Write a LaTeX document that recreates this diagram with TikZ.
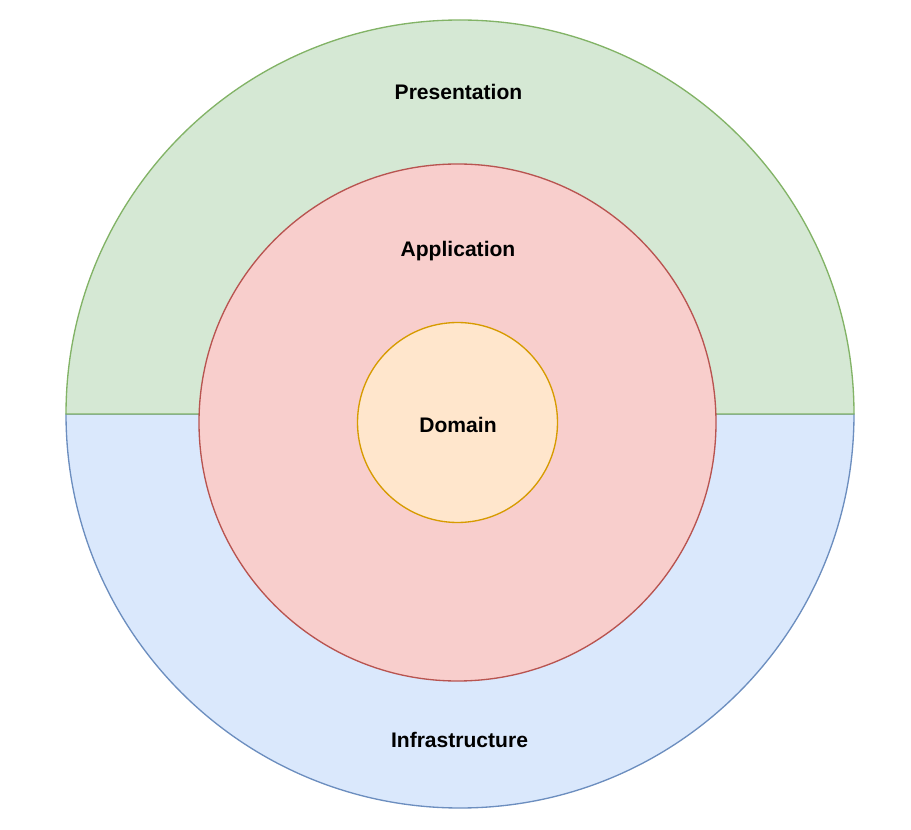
\documentclass[tikz,border=0pt]{standalone}
\usepackage{fontspec}
\setmainfont{Liberation Sans}
\usetikzlibrary{positioning}
\definecolor{presfill}{HTML}{D5E8D4}
\definecolor{presline}{HTML}{82B366}
\definecolor{infrafill}{HTML}{DAE8FC}
\definecolor{infraline}{HTML}{6C8EBF}
\definecolor{appfill}{HTML}{F8CECC}
\definecolor{appline}{HTML}{B85450}
\definecolor{domfill}{HTML}{FFE6CC}
\definecolor{domline}{HTML}{D79B00}
\tikzset{layer/.style={line width=1pt},ring/.style={circle,draw,line width=1pt,inner sep=0pt},label/.style={font=\bfseries\fontsize{15.8pt}{18pt}\selectfont,inner sep=0pt,anchor=base}}

\begin{document}
\begin{tikzpicture}[x=0.75pt,y=-0.75pt]
\useasboundingbox (0,0) rectangle (911,830);
\draw[layer, draw=infraline, fill=infrafill] (66,414) arc (180:0:394) -- cycle;
\draw[layer, draw=presline, fill=presfill] (66,414) arc (180:360:394) -- cycle;
\node[ring, draw=appline, fill=appfill, minimum size=517*0.75pt] (app) at (457.5,422.5) {};
\node[ring, draw=domline, fill=domfill, minimum size=200*0.75pt] (dom) at (457.5,422.5) {};
\node[label] (pres) at (458.5,100) {Presentation};
\node[label] (appl) at (458,257) {Application};
\node[label] (doml) at (458,433) {Domain};
\node[label] (infra) at (459.5,747) {Infrastructure};
\end{tikzpicture}
\end{document}
